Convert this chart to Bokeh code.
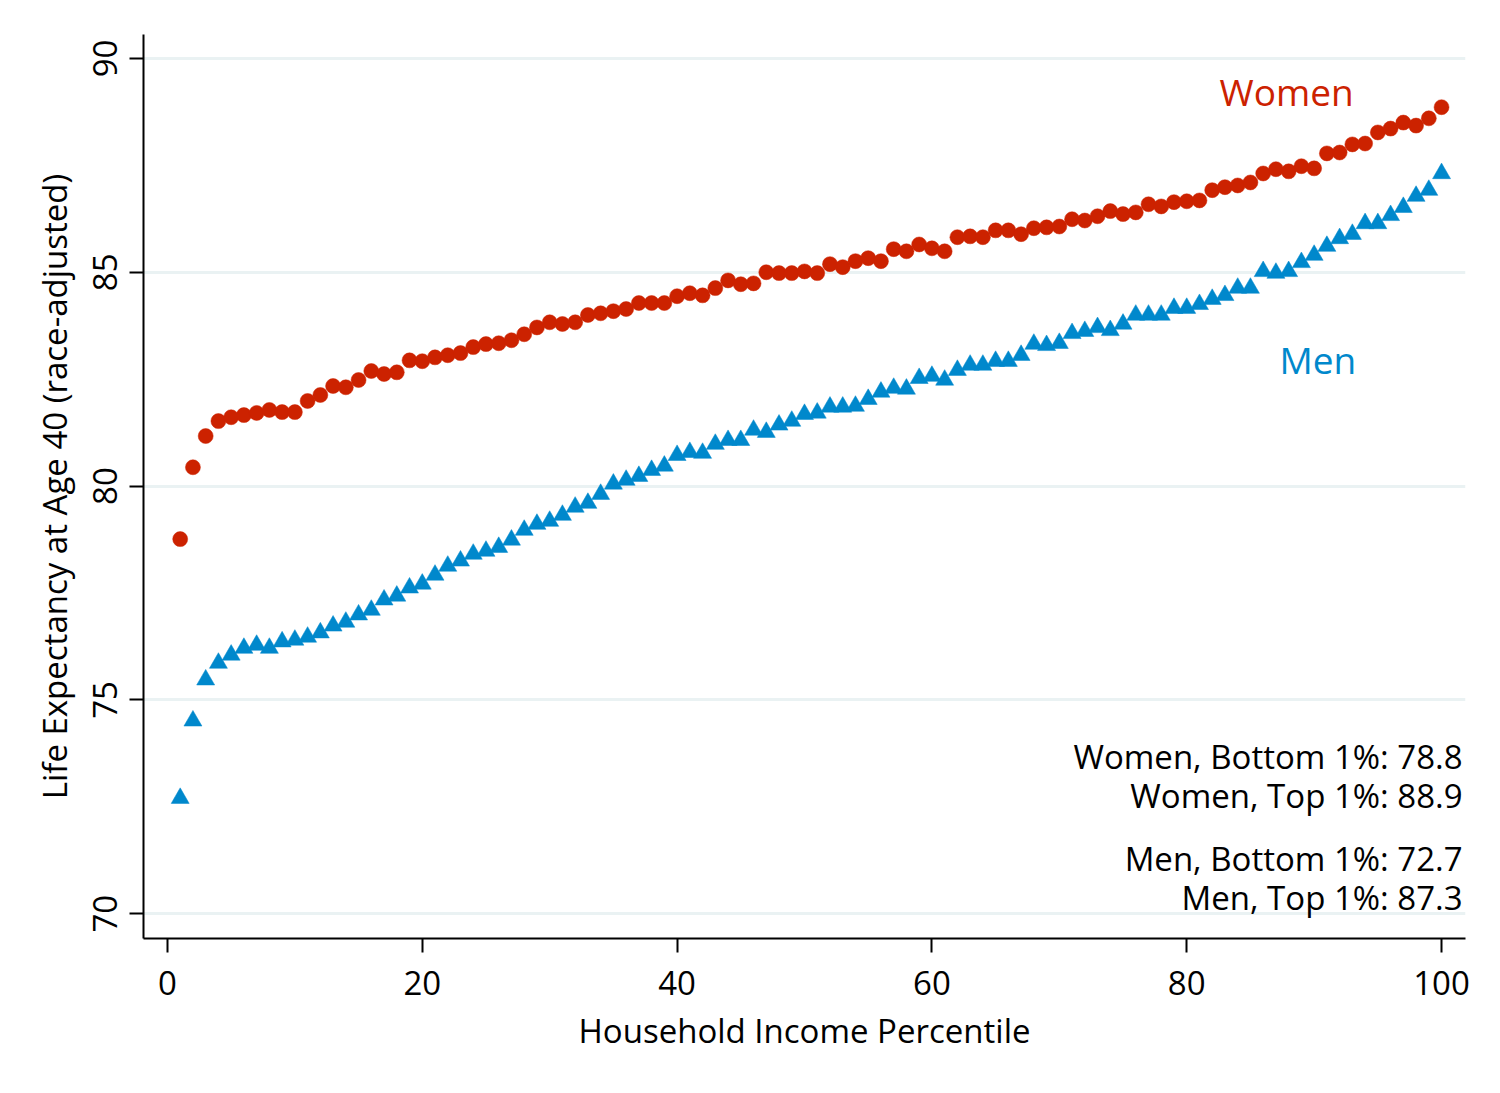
from bokeh.plotting import figure
from bokeh.models import Range1d, FixedTicker, ColumnDataSource
from bokeh.core.properties import value
from bokeh.embed import file_html
from bokeh.resources import INLINE

percentile = list(range(1, 101))

women = [78.76, 80.44, 81.17, 81.52, 81.61, 81.66, 81.71, 81.78, 81.73, 81.73,
         81.99, 82.13, 82.34, 82.31, 82.48, 82.69, 82.62, 82.66, 82.94, 82.92,
         83.01, 83.06, 83.11, 83.25, 83.32, 83.34, 83.41, 83.55, 83.71, 83.83,
         83.79, 83.83, 84.00, 84.04, 84.09, 84.14, 84.28, 84.28, 84.28, 84.44,
         84.51, 84.46, 84.63, 84.81, 84.72, 84.74, 85.00, 84.98, 84.98, 85.02,
         84.98, 85.19, 85.12, 85.26, 85.33, 85.26, 85.54, 85.49, 85.65, 85.56,
         85.49, 85.82, 85.84, 85.82, 85.98, 85.98, 85.89, 86.03, 86.05, 86.07,
         86.24, 86.21, 86.31, 86.43, 86.36, 86.40, 86.59, 86.54, 86.64, 86.66,
         86.68, 86.92, 86.99, 87.03, 87.10, 87.31, 87.41, 87.36, 87.48, 87.43,
         87.78, 87.80, 87.99, 88.01, 88.27, 88.36, 88.50, 88.43, 88.60, 88.86]

men = [72.70, 74.51, 75.47, 75.86, 76.05, 76.21, 76.28, 76.21, 76.36, 76.40,
       76.47, 76.57, 76.73, 76.82, 76.99, 77.10, 77.34, 77.43, 77.62, 77.71,
       77.92, 78.13, 78.25, 78.41, 78.48, 78.57, 78.74, 78.97, 79.11, 79.18,
       79.32, 79.51, 79.60, 79.81, 80.05, 80.14, 80.23, 80.37, 80.47, 80.72,
       80.79, 80.77, 80.98, 81.07, 81.07, 81.31, 81.26, 81.43, 81.52, 81.68,
       81.71, 81.85, 81.85, 81.87, 82.03, 82.20, 82.29, 82.27, 82.52, 82.57,
       82.48, 82.71, 82.83, 82.83, 82.92, 82.92, 83.06, 83.32, 83.29, 83.34,
       83.57, 83.62, 83.71, 83.64, 83.79, 84.00, 84.00, 84.00, 84.16, 84.16,
       84.25, 84.37, 84.46, 84.63, 84.63, 85.02, 84.98, 85.02, 85.23, 85.40,
       85.61, 85.79, 85.89, 86.14, 86.14, 86.33, 86.52, 86.78, 86.92, 87.31]

x_ticks = [0, 20, 40, 60, 80, 100]
y_ticks = [70, 75, 80, 85, 90]

series_labels = ["Women", "Men"]
series_label_x = [93.1, 93.3]
series_label_y = [89.22, 82.95]

note_lines = ["Women, Bottom 1%: 78.8", "Women, Top 1%: 88.9",
              "Men, Bottom 1%: 72.7", "Men, Top 1%: 87.3"]
note_x = [101.65, 101.65, 101.65, 101.65]
note_y = [73.67, 72.76, 71.29, 70.37]

RED = "#cc2200"
BLUE = "#0088cc"
FONT = "Open Sans"

p = figure(width=1492, height=1085, output_backend="svg", toolbar_location=None,
           x_range=Range1d(-1.88, 101.88), y_range=Range1d(69.42, 90.56),
           min_border_left=143, min_border_right=27, min_border_top=34,
           min_border_bottom=147)
p.outline_line_color = None
p.background_fill_color = "white"
p.border_fill_color = "white"

p.xgrid.visible = False
p.ygrid.grid_line_color = "#eaf2f3"
p.ygrid.grid_line_width = 3

p.xaxis.ticker = FixedTicker(ticks=x_ticks)
p.yaxis.ticker = FixedTicker(ticks=y_ticks)
for ax in (p.xaxis[0], p.yaxis[0]):
    ax.axis_line_color = "black"
    ax.axis_line_width = 2
    ax.major_tick_line_color = "black"
    ax.major_tick_line_width = 2
    ax.major_tick_out = 14
    ax.major_tick_in = 0
    ax.minor_tick_line_color = None
    ax.major_label_text_font = FONT
    ax.major_label_text_font_size = "33px"
    ax.major_label_text_color = "black"
    ax.axis_label_text_font = FONT
    ax.axis_label_text_font_size = "33px"
    ax.axis_label_text_font_style = "normal"
    ax.axis_label_text_color = "black"

p.xaxis.axis_label = "Household Income Percentile"
p.yaxis.axis_label = "Life Expectancy at Age 40 (race-adjusted)"
p.yaxis.major_label_orientation = "parallel"
p.xaxis.major_label_standoff = 18
p.yaxis.major_label_standoff = 12
p.xaxis.axis_label_standoff = 10
p.yaxis.axis_label_standoff = 14

src = ColumnDataSource(dict(x=percentile, women=women, men=men))
p.scatter("x", "women", source=src, marker="circle", size=15,
          fill_color=RED, line_color=RED, line_width=0.5)
p.scatter("x", "men", source=src, marker="triangle", size=18,
          fill_color=BLUE, line_color=BLUE, line_width=0.5)

lab_src = ColumnDataSource(dict(x=series_label_x, y=series_label_y,
                                t=series_labels, c=[RED, BLUE]))
p.text("x", "y", text="t", source=lab_src, text_color="c",
       text_font=value(FONT), text_font_size="37px",
       text_align="right", text_baseline="middle")

note_src = ColumnDataSource(dict(x=note_x, y=note_y, t=note_lines))
p.text("x", "y", text="t", source=note_src, text_color="black",
       text_font=value(FONT), text_font_size="33px",
       text_align="right", text_baseline="middle")

open("out.html", "w").write(file_html(p, INLINE))
